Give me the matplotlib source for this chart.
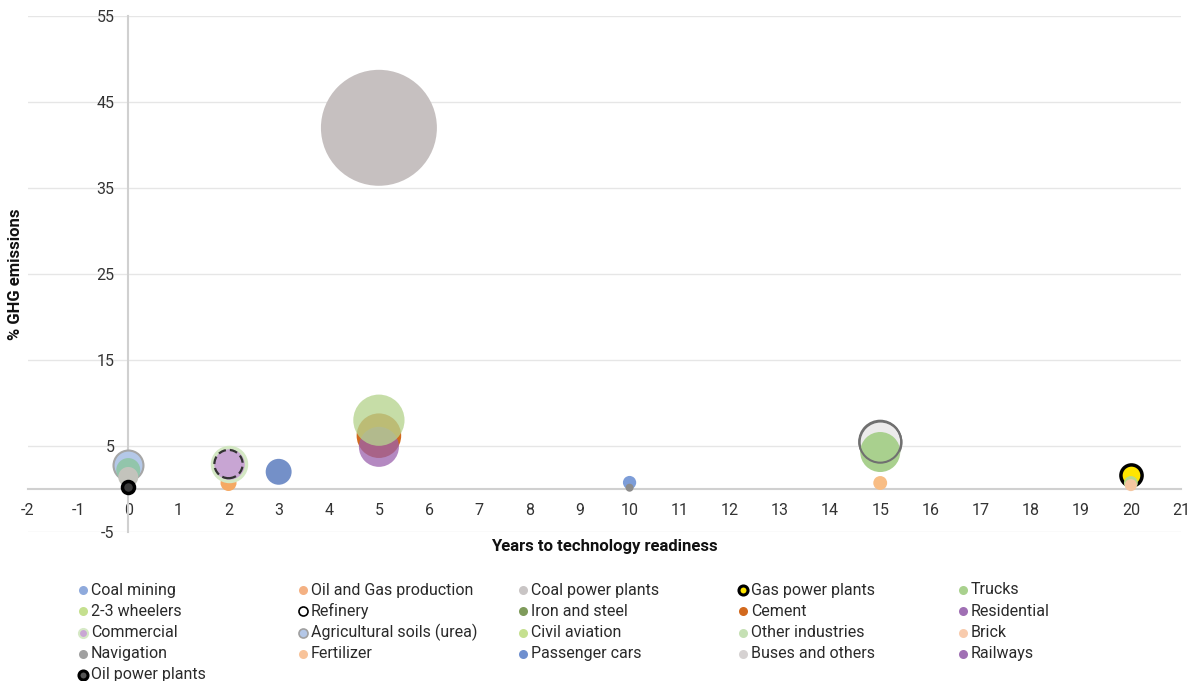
import matplotlib
matplotlib.use("Agg")
import matplotlib.pyplot as plt
from matplotlib.lines import Line2D

# ---------------- data ----------------
categories = ["Coal mining", "Oil and Gas production", "Coal power plants", "Gas power plants", "Trucks",
              "2-3 wheelers", "Refinery", "Iron and steel", "Cement", "Residential",
              "Commercial", "Agricultural soils (urea)", "Civil aviation", "Other industries", "Brick",
              "Navigation", "Fertilizer", "Passenger cars", "Buses and others", "Railways",
              "Oil power plants"]
years = [10, 2, 5, 20, 15,
         0, 2, 5, 5, 5,
         2, 0, 20, 5, 20,
         0, 15, 3, 15, 10,
         0]
ghg = [0.75, 0.7, 42.0, 1.6, 4.3,
       2.2, 2.9, 6.0, 6.2, 4.9,
       2.9, 2.8, 0.7, 8.0, 0.45,
       1.4, 0.7, 2.0, 5.5, 0.15,
       0.25]
bubble_size = [0.55, 0.8, 42.0, 1.4, 5.0,
               1.8, 2.5, 5.0, 6.2, 5.0,
               3.6, 2.8, 0.6, 8.2, 0.45,
               1.25, 0.6, 2.1, 5.5, 0.2,
               0.45]
xticks = list(range(-2, 22))
yticks = [-5, 5, 15, 25, 35, 45, 55]

# ---------------- styles ----------------
face = ["#7d9dd8", "#f5a964", "#c6c0c0", "#ffe500", "#a9d08e",
        "#92c5ab", "none", "#7e9c5a", "#d2691e", "#9b62ad",
        "#c8a5d3", "#b4c8e8", "#b8d98a", "#b6d48f", "#f5c6a0",
        "#c3c3bc", "#f8bd85", "#7490c8", "#ecebeb", "#8c8c8c",
        "#3a3a3a"]
edge = ["none", "none", "none", "black", "none",
        "none", "#333333", "none", "none", "none",
        "#d4e8c4", "#a6a6a6", "none", "none", "none",
        "none", "none", "none", "#707070", "none",
        "black"]
lw = [0, 0, 0, 2.5, 0,
      0, 1.6, 0, 0, 0,
      2.5, 1.5, 0, 0, 0,
      0, 0, 0, 1.5, 0,
      2.5]
alpha = [1, 1, 1, 1, 1,
         1, 1, 1, 1, 0.75,
         1, 1, 1, 0.78, 1,
         1, 1, 1, 1, 1,
         1]
zorder = [3, 2, 3, 3, 3,
          4, 5, 2, 3, 4,
          4, 3, 4, 5, 5,
          5, 3, 3, 2, 4,
          6]
# outline drawn again above neighbours (only where the outline sits on top)
outline_on_top = ["Buses and others"]

leg_face = ["#8faadc", "#f4b183", "#c9c5c5", "#ffe500", "#a9d18e",
            "#c5e08f", "white", "#7f9b5b", "#d2691e", "#a070b4",
            "#c9a6d4", "#b4c7e7", "#c5e08f", "#c5e0b4", "#f8cbad",
            "#a0a0a0", "#f8c39a", "#6f8fcf", "#d6d2d2", "#a070b4",
            "#555555"]
leg_edge = ["none", "none", "none", "black", "none",
            "none", "black", "none", "none", "none",
            "#d6e9c6", "#a0a0a0", "none", "none", "none",
            "none", "none", "none", "none", "none",
            "black"]
leg_lw = [0, 0, 0, 2.2, 0,
          0, 1.2, 0, 0, 0,
          1.5, 1.2, 0, 0, 0,
          0, 0, 0, 0, 0,
          2.2]

plt.rcParams["font.family"] = ["Roboto", "DejaVu Sans"]

W, H = 1198, 681
fig = plt.figure(figsize=(W / 100, H / 100), dpi=100)
ax = fig.add_axes([28 / W, 1 - 532 / H, (1181 - 28) / W, (532 - 16) / H])

K = 166.0  # points^2 per unit of bubble size
for i, name in enumerate(categories):
    ls = (0, (3.5, 1.8)) if name == "Refinery" else "solid"
    ax.scatter([years[i]], [ghg[i]], s=[bubble_size[i] * K], c=[face[i]] if face[i] != "none" else "none",
               edgecolors=edge[i], linewidths=lw[i], alpha=alpha[i], zorder=zorder[i],
               linestyles=ls, label=name)
    if name in outline_on_top:
        ax.scatter([years[i]], [ghg[i]], s=[bubble_size[i] * K], facecolors="none",
                   edgecolors=edge[i], linewidths=lw[i], zorder=6)

ax.set_xlim(-2, 21)
ax.set_ylim(-5, 55)
ax.set_xticks(xticks)
ax.set_yticks(yticks)
ax.set_xticklabels([str(v) for v in xticks])
ax.set_yticklabels([str(v) for v in yticks])

for s in ["top", "right"]:
    ax.spines[s].set_visible(False)
ax.spines["left"].set_position(("data", 0))
ax.spines["bottom"].set_position(("data", 0))
for s in ["left", "bottom"]:
    ax.spines[s].set_color("#d0d0d0")
    ax.spines[s].set_linewidth(1.5)
    ax.spines[s].set_zorder(1)

ax.yaxis.grid(True, color="#e6e6e6", linewidth=1.0, zorder=0)
ax.set_axisbelow(True)
ax.tick_params(axis="both", length=0, labelsize=11.5, labelcolor="#333333")
ax.tick_params(axis="x", pad=10)
ax.tick_params(axis="y", pad=10)

fig.text(604 / W, 1 - 546 / H, "Years to technology readiness", ha="center", va="center",
         fontsize=12, fontweight="bold", color="#111111")
fig.text(16 / W, 1 - 274 / H, "% GHG emissions", ha="center", va="center", rotation=90,
         fontsize=12, fontweight="bold", color="#111111")

# legend laid out as a 5-column grid (row-major like the original)
for i, name in enumerate(categories):
    col, row = i % 5, i // 5
    mx = 83 + col * 220
    my = 590 + row * 21.25
    m = Line2D([mx / W], [1 - my / H], marker="o", linestyle="None", markersize=6.5,
               markerfacecolor=leg_face[i], markeredgecolor=leg_edge[i], markeredgewidth=leg_lw[i],
               transform=fig.transFigure)
    fig.add_artist(m)
    fig.text((mx + 8) / W, 1 - my / H, name, ha="left", va="center", fontsize=11.5, color="#2a2a2a")

fig.savefig("out.png", dpi=100)
